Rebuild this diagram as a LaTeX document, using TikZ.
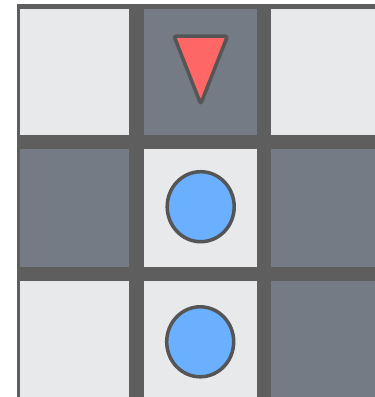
\documentclass[tikz,border=0pt]{standalone}
\begin{document}
\begin{tikzpicture}[x=1pt,y=-1pt,
  lightcell/.style={fill=cellLight},
  darkcell/.style={fill=cellDark},
  piece/.style={draw=outlineGray,line width=3.5pt,line join=round}]
\definecolor{gridGray}{HTML}{5E5E5E}
\definecolor{cellLight}{HTML}{E8E9EB}
\definecolor{cellDark}{HTML}{757B85}
\definecolor{outlineGray}{HTML}{555555}
\definecolor{pieceBlue}{HTML}{6AB0FF}
\definecolor{pieceRed}{HTML}{FF6666}
\useasboundingbox (0,0) rectangle (375,397);
\fill[white] (0,0) rectangle (375,397);
\fill[gridGray] (16.7,4.3) rectangle (375,397);
% row 1
\fill[lightcell] (19.7,8.7) rectangle (377,135);
\fill[darkcell] (143.7,8.7) rectangle (256.7,135);
\fill[gridGray] (129,8.7) rectangle (143.7,135);
\fill[gridGray] (256.7,8.7) rectangle (271,135);
% row 2
\fill[darkcell] (19.7,148.7) rectangle (129,266.7);
\fill[lightcell] (143.7,148.7) rectangle (256.7,266.7);
\fill[darkcell] (271,148.7) rectangle (377,266.7);
% row 3
\fill[lightcell] (19.7,281) rectangle (129,399);
\fill[lightcell] (143.7,281) rectangle (256.7,399);
\fill[darkcell] (271,281) rectangle (377,399);
% pieces
\filldraw[piece,fill=pieceRed,rounded corners=2.5pt] (174,36) -- (227.5,36) -- (200.7,104) -- cycle;
\filldraw[piece,fill=pieceBlue] (200.7,206.7) ellipse [x radius=33.5, y radius=35];
\filldraw[piece,fill=pieceBlue] (200.2,341.8) ellipse [x radius=33.5, y radius=35];
\end{tikzpicture}
\end{document}
